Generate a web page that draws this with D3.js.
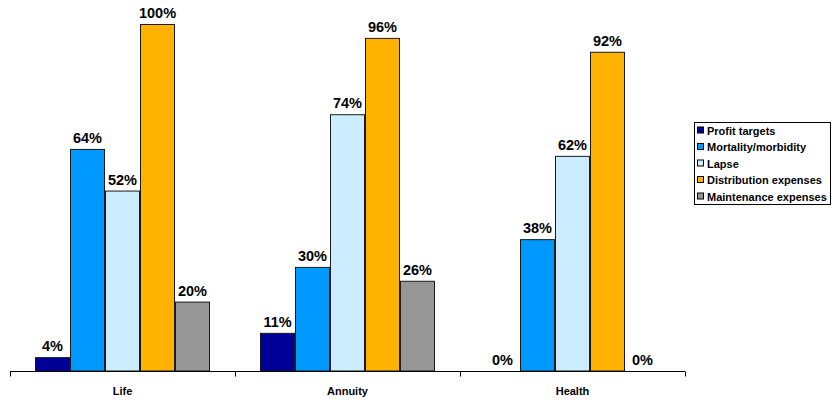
<!DOCTYPE html>
<html>
<head>
<meta charset="utf-8">
<script src="https://cdn.jsdelivr.net/npm/d3@7"></script>
<style>
  html, body { margin: 0; padding: 0; background: #fff; }
  svg { display: block; font-family: "Liberation Sans", Arial, sans-serif; }
</style>
</head>
<body>
<svg id="chart" width="832" height="402"></svg>
<script>
const categories = ["Life", "Annuity", "Health"];
const seriesNames = ["Profit targets", "Mortality/morbidity", "Lapse", "Distribution expenses", "Maintenance expenses"];
const seriesColors = ["#000099", "#0099FF", "#CCECFF", "#FFB300", "#969696"];
const profitTargets = [4, 11, 0];
const mortalityMorbidity = [64, 30, 38];
const lapse = [52, 74, 62];
const distributionExpenses = [100, 96, 92];
const maintenanceExpenses = [20, 26, 0];

const seriesValues = [profitTargets, mortalityMorbidity, lapse, distributionExpenses, maintenanceExpenses];

const svg = d3.select("#chart");
const plotLeft = 10, plotRight = 685, plotBase = 371, plotTop = 24;

const x0 = d3.scaleBand().domain(categories).range([plotLeft, plotRight]).paddingInner(0).paddingOuter(0);
const x1 = d3.scaleBand().domain(seriesNames).range([0, x0.bandwidth()]).paddingOuter(25 / 35).paddingInner(0);
const y = d3.scaleLinear().domain([0, 100]).range([plotBase, plotTop]);

const data = [];
categories.forEach((c, ci) => {
  seriesNames.forEach((s, si) => {
    data.push({ cat: c, series: s, color: seriesColors[si], value: seriesValues[si][ci] });
  });
});

const g = svg.append("g");

g.selectAll("rect.bar").data(data.filter(d => d.value > 0)).join("rect")
  .attr("class", "bar")
  .attr("x", d => x0(d.cat) + x1(d.series) + 0.5)
  .attr("y", d => y(d.value) + 0.5)
  .attr("width", x1.bandwidth() - 1)
  .attr("height", d => plotBase - y(d.value) - 0.5)
  .attr("fill", d => d.color)
  .attr("stroke", "#1a1a1a")
  .attr("stroke-width", 1);

g.selectAll("text.val").data(data).join("text")
  .attr("class", "val")
  .attr("x", d => x0(d.cat) + x1(d.series) + x1.bandwidth() / 2)
  .attr("y", d => y(d.value) - 6)
  .attr("text-anchor", "middle")
  .attr("font-size", "14.5px")
  .attr("font-weight", "bold")
  .attr("fill", "#000")
  .text(d => d.value + "%");

// x axis
const axis = d3.axisBottom(x0).tickSize(0).tickFormat("");
const ax = svg.append("g").attr("transform", `translate(0,${plotBase + 0.5})`).call(axis);
ax.select(".domain").attr("stroke", "#000").attr("d", `M${plotLeft},0H${plotRight}`);
const tickXs = categories.map(c => x0(c)).concat([plotRight]);
ax.selectAll("line.bt").data(tickXs).join("line")
  .attr("class", "bt")
  .attr("x1", d => d + 0.5).attr("x2", d => d + 0.5)
  .attr("y1", 0).attr("y2", 5)
  .attr("stroke", "#000");

svg.append("g").selectAll("text.cat").data(categories).join("text")
  .attr("class", "cat")
  .attr("x", d => x0(d) + x0.bandwidth() / 2)
  .attr("y", 395)
  .attr("text-anchor", "middle")
  .attr("font-size", "11px")
  .attr("font-weight", "bold")
  .text(d => d);

// legend
const lg = svg.append("g");
lg.append("rect")
  .attr("x", 694.5).attr("y", 122.5)
  .attr("width", 136).attr("height", 82)
  .attr("fill", "#fff").attr("stroke", "#000");
const rowY = d3.scalePoint().domain(seriesNames).range([130.5, 196.5]);
const items = lg.selectAll("g.item").data(seriesNames).join("g").attr("class", "item");
items.append("rect")
  .attr("x", 697.5).attr("y", d => rowY(d) - 3.5)
  .attr("width", 6).attr("height", 6)
  .attr("fill", (d, i) => seriesColors[i])
  .attr("stroke", "#000");
items.append("text")
  .attr("x", 707).attr("y", d => rowY(d) + 4)
  .attr("font-size", "11px")
  .attr("font-weight", "bold")
  .text(d => d);
</script>
</body>
</html>
